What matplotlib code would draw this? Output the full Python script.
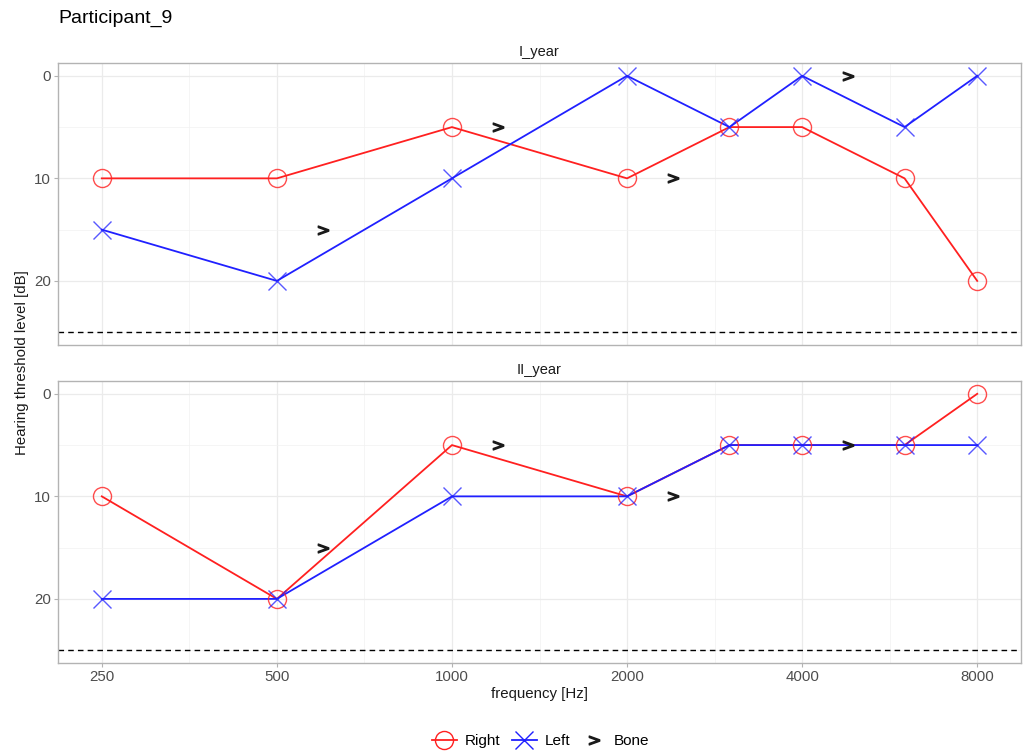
import matplotlib
matplotlib.use("Agg")
import matplotlib.pyplot as plt
from matplotlib.lines import Line2D
from matplotlib.ticker import NullFormatter
import numpy as np

plt.rcParams['font.family'] = ['Liberation Sans', 'DejaVu Sans']

# Audiogram data
freqs = [250, 500, 1000, 2000, 3000, 4000, 6000, 8000]
bone_freqs = [600, 1200, 2400, 4800]
tick_freqs = [250, 500, 1000, 2000, 4000, 8000]
tick_labels = ["250", "500", "1000", "2000", "4000", "8000"]

year1_right = [10, 10, 5, 10, 5, 5, 10, 20]
year1_left = [15, 20, 10, 0, 5, 0, 5, 0]
year1_bone = [15, 5, 10, 0]

year2_right = [10, 20, 5, 10, 5, 5, 5, 0]
year2_left = [20, 20, 10, 10, 5, 5, 5, 5]
year2_bone = [15, 5, 10, 5]

panels = [("I_year", year1_right, year1_left, year1_bone),
          ("II_year", year2_right, year2_left, year2_bone)]

limit_db = 25
RED = "#FF2020"
BLUE = "#2020FF"
BONE_MARKER = r'$>$'

W, H = 1029, 756
fig = plt.figure(figsize=(W / 100, H / 100), dpi=100)

# panel boxes in pixels: left, top, right, bottom
boxes = [(58, 63, 1021, 345), (58, 381, 1021, 663)]
minor_x = [np.sqrt(a * b) for a, b in zip(tick_freqs[:-1], tick_freqs[1:])]

axes = []
for (x0, y0, x1, y1), (name, right, left, bone) in zip(boxes, panels):
    ax = fig.add_axes([x0 / W, 1 - y1 / H, (x1 - x0) / W, (y1 - y0) / H])
    axes.append(ax)
    ax.set_xscale('log', base=2)
    ax.set_xlim(250 * 2 ** -0.25, 8000 * 2 ** 0.25)
    ax.set_ylim(26.25, -1.25)

    ax.set_xticks(tick_freqs)
    ax.set_xticks(minor_x, minor=True)
    ax.xaxis.set_minor_formatter(NullFormatter())
    ax.set_yticks([0, 10, 20])
    ax.set_yticks([5, 15, 25], minor=True)
    ax.yaxis.set_minor_formatter(NullFormatter())
    ax.grid(True, which='major', color='#EBEBEB', lw=0.9, zorder=0)
    ax.grid(True, which='minor', color='#F2F2F2', lw=0.5, zorder=0)
    ax.set_axisbelow(True)

    for s in ax.spines.values():
        s.set_color('#B3B3B3')
        s.set_linewidth(1.0)
    ax.tick_params(which='minor', length=0)
    ax.tick_params(which='major', length=3, color='#B3B3B3', width=0.8,
                   labelsize=10.8, labelcolor='#4D4D4D', pad=2)

    ax.axhline(limit_db, color='black', lw=1.0, ls=(0, (4, 3)), zorder=1)

    ax.plot(freqs, right, color=RED, lw=1.3, zorder=3)
    ax.plot(freqs, right, ls='none', marker='o', ms=13, mfc='none',
            mec=RED, mew=1.0, alpha=0.8, zorder=4)
    ax.plot(freqs, left, color=BLUE, lw=1.3, zorder=3)
    ax.plot(freqs, left, ls='none', marker='x', ms=13, mec=BLUE,
            mew=1.0, alpha=0.75, zorder=4)
    ax.plot(bone_freqs, bone, ls='none', marker=BONE_MARKER, ms=7.5,
            color='#1A1A1A', zorder=5)

    ax.text(0.5, 1 + 11 / (y1 - y0), name, transform=ax.transAxes,
            ha='center', va='center', fontsize=10.5, color='#1A1A1A')

axes[0].set_xticklabels([])
axes[0].tick_params(axis='x', which='major', length=0)
axes[1].set_xticklabels(tick_labels)
axes[1].set_xlabel("frequency [Hz]", fontsize=10.8, color='#1A1A1A', labelpad=2)

fig.text(22 / W, 1 - 363 / H, "Hearing threshold level [dB]", rotation=90,
         ha='center', va='center', fontsize=10.8, color='#1A1A1A')
fig.text(58 / W, 1 - 18 / H, "Participant_9", ha='left', va='center',
         fontsize=14, color='black')

handles = [
    Line2D([], [], color=RED, lw=1.3, marker='o', ms=13, mfc='none', mec=RED, mew=1.0),
    Line2D([], [], color=BLUE, lw=1.3, marker='x', ms=13, mec=BLUE, mew=1.0),
    Line2D([], [], ls='none', marker=BONE_MARKER, ms=7.5, color='#1A1A1A'),
]
fig.legend(handles, ["Right", "Left", "Bone"], loc='center',
           bbox_to_anchor=(541 / W, 1 - 741 / H), ncol=3, frameon=False,
           fontsize=11, handlelength=1.6, handletextpad=0.5, columnspacing=0.8)

fig.savefig("out.png", dpi=100)
